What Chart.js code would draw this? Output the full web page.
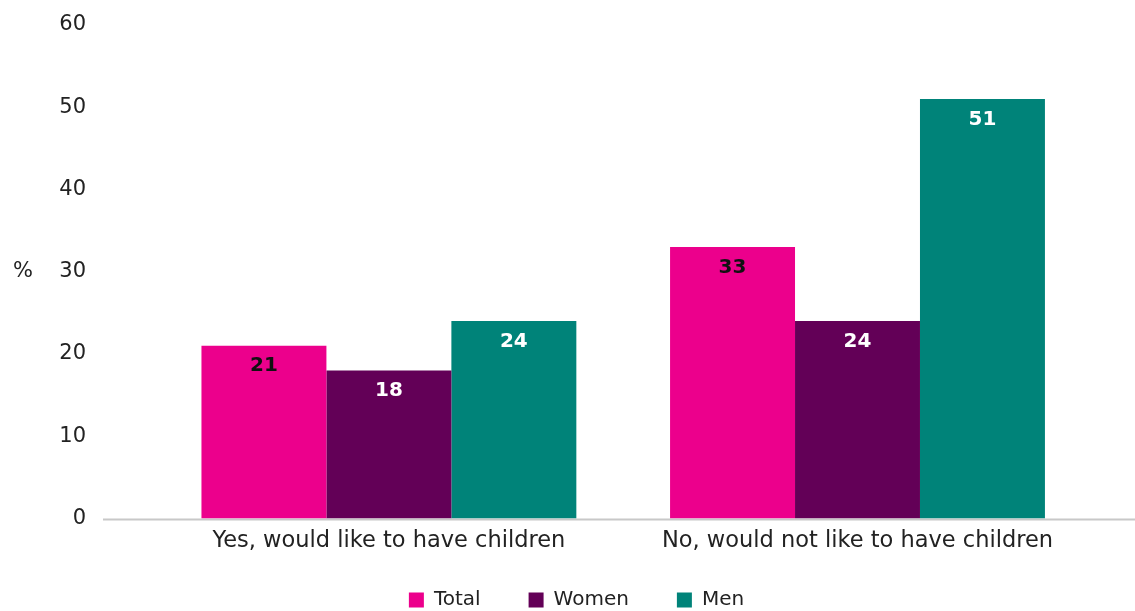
<!DOCTYPE html>
<html>
<head>
<meta charset="utf-8">
<script src="https://cdn.jsdelivr.net/npm/chart.js@4.4.1/dist/chart.umd.min.js"></script>
<style>
  html, body { margin: 0; padding: 0; background: #ffffff; }
  #c { display: block; }
</style>
</head>
<body>
<canvas id="c" width="1135" height="611"></canvas>
<script>
const categories = ["Yes, would like to have children", "No, would not like to have children"];
const seriesNames = ["Total", "Women", "Men"];
const totalValues = [21, 33];
const womenValues = [18, 24];
const menValues = [24, 51];
const yMin = 0, yMax = 60, yStep = 10;
const yUnit = "%";

const FONT = "'DejaVu Sans', 'Liberation Sans', sans-serif";
const colors = ["#EC008C", "#630057", "#008379"];
const labelColors = ["#111111", "#ffffff", "#ffffff"];

const valueLabels = {
  id: 'valueLabels',
  afterDatasetsDraw(chart) {
    const ctx = chart.ctx;
    ctx.save();
    ctx.font = "bold 20px " + FONT;
    ctx.textAlign = 'center';
    ctx.textBaseline = 'middle';
    chart.data.datasets.forEach((ds, i) => {
      const meta = chart.getDatasetMeta(i);
      meta.data.forEach((el, j) => {
        ctx.fillStyle = labelColors[i];
        ctx.fillText(String(ds.data[j]), el.x, el.y + 20.5);
      });
    });
    ctx.restore();
  }
};

const baseLine = {
  id: 'baseLine',
  beforeDatasetsDraw(chart) {
    const ctx = chart.ctx;
    const y = chart.scales.y.getPixelForValue(0);
    ctx.save();
    ctx.strokeStyle = '#c8c8c8';
    ctx.lineWidth = 2;
    ctx.beginPath();
    ctx.moveTo(103, y + 1);
    ctx.lineTo(1135, y + 1);
    ctx.stroke();
    ctx.restore();
  },
  afterDraw(chart) {
    const ctx = chart.ctx;
    const a = chart.chartArea;
    ctx.save();
    ctx.font = "21px " + FONT;
    ctx.fillStyle = '#222222';
    ctx.textAlign = 'center';
    ctx.textBaseline = 'middle';
    ctx.fillText(yUnit, 23, (a.top + a.bottom) / 2);
    ctx.restore();
  }
};

// Legend drawn from the datasets' labels and colours
const bottomLegend = {
  id: 'bottomLegend',
  afterDraw(chart) {
    const ctx = chart.ctx;
    const box = 15, gapText = 10, gapItem = 48, cx = 576.5, cy = 600;
    ctx.save();
    ctx.font = "20px " + FONT;
    const items = chart.data.datasets.map(ds => ({
      text: ds.label, color: ds.backgroundColor, w: ctx.measureText(ds.label).width
    }));
    let total = 0;
    items.forEach((it, i) => { total += box + gapText + it.w + (i ? gapItem : 0); });
    let x = cx - total / 2;
    ctx.textBaseline = 'middle';
    ctx.textAlign = 'left';
    items.forEach(it => {
      ctx.fillStyle = it.color;
      ctx.fillRect(x, cy - box / 2, box, box);
      ctx.fillStyle = '#222222';
      ctx.fillText(it.text, x + box + gapText, cy);
      x += box + gapText + it.w + gapItem;
    });
    ctx.restore();
  }
};

new Chart(document.getElementById('c'), {
  type: 'bar',
  data: {
    labels: categories,
    datasets: [
      { label: seriesNames[0], data: totalValues, backgroundColor: colors[0] },
      { label: seriesNames[1], data: womenValues, backgroundColor: colors[1] },
      { label: seriesNames[2], data: menValues, backgroundColor: colors[2] }
    ]
  },
  options: {
    responsive: false,
    devicePixelRatio: 1,
    animation: false,
    layout: { padding: { left: 0, right: 43.2, top: 25, bottom: 47.5 } },
    datasets: { bar: { categoryPercentage: 0.8, barPercentage: 1.0, borderWidth: 0 } },
    scales: {
      x: {
        grid: { display: false, drawTicks: false },
        border: { display: false },
        ticks: { color: '#222222', font: { family: FONT, size: 22.5 }, padding: 9, maxRotation: 0 }
      },
      y: {
        weight: 1,
        min: yMin, max: yMax,
        grid: { display: false, drawTicks: false },
        border: { display: false },
        ticks: { stepSize: yStep, color: '#222222', font: { family: FONT, size: 21 }, padding: 8 },
        afterFit(scale) { scale.width = 94; }
      },
      yGap: {
        type: 'linear',
        position: 'left',
        weight: 0,
        min: yMin, max: yMax,
        grid: { display: false, drawTicks: false },
        border: { display: false },
        ticks: { display: false },
        afterFit(scale) { scale.width = 60.6; }
      }
    },
    plugins: {
      legend: { display: false },
      tooltip: { enabled: false }
    }
  },
  plugins: [valueLabels, baseLine, bottomLegend]
});
</script>
</body>
</html>
